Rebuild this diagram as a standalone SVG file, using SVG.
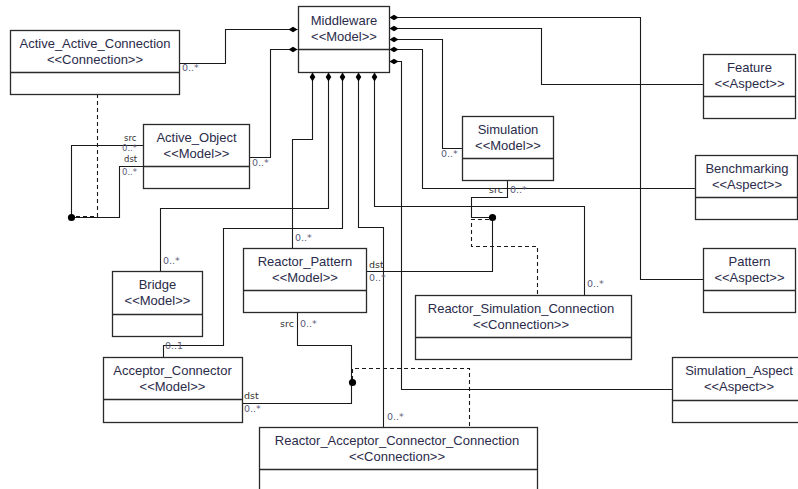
<svg xmlns="http://www.w3.org/2000/svg" width="798" height="489" viewBox="0 0 798 489">
  <style>
    .box { fill: #ffffff; stroke: #2a2a2a; stroke-width: 1.3; }
    .div { stroke: #2a2a2a; stroke-width: 1.3; }
    .name { font-family: "Liberation Sans", Arial, sans-serif; font-size: 13px; fill: #2b2b4a; text-anchor: middle; }
    .role { font-family: "DejaVu Sans", Verdana, sans-serif; font-size: 9.5px; fill: #333333; }
    .mult { font-family: "DejaVu Sans", Verdana, sans-serif; font-size: 9.5px; fill: #5a5a78; }
    .tight { font-size: 8.5px; }
    .wire { fill: none; stroke: #1a1a1a; stroke-width: 1.1; }
    .own { marker-start: url(#diamond); }
    .dash { fill: none; stroke: #1a1a1a; stroke-width: 1.1; stroke-dasharray: 4 3; }
    .dot { fill: #000000; }
  </style>
  <defs>
    <marker id="diamond" markerUnits="userSpaceOnUse" markerWidth="12" markerHeight="8" viewBox="0 -4 10 8" refX="0" refY="0" orient="auto">
      <path d="M0,0 L4.5,-2.8 L9,0 L4.5,2.8 Z" fill="#000000"/>
    </marker>
  </defs>

  <rect width="798" height="489" fill="#ffffff"/>

  <!-- connectors -->
  <g id="connectors">
    <!-- Middleware, left side -->
    <path class="wire own" d="M297.5,29.5 H225.5 V63.5 H179.5"/>
    <path class="wire own" d="M297.5,49.5 H270.5 V157.5 H249.5"/>
    <!-- Middleware, bottom side -->
    <path class="wire own" d="M312.5,72.5 V139.5 H292.5 V248"/>
    <path class="wire own" d="M328.5,72.5 V208.5 H160.5 V271"/>
    <path class="wire own" d="M342.5,72.5 V228.5 H223.5 V345.5 H163.5 V357"/>
    <path class="wire own" d="M358.5,72.5 V227.5 H383.5 V427"/>
    <path class="wire own" d="M374.5,72.5 V206.5 H584.5 V295"/>
    <!-- Middleware, right side -->
    <path class="wire own" d="M389.5,17.5 H640.5 V279.5 H703"/>
    <path class="wire own" d="M389.5,28.5 H541.5 V84.5 H703"/>
    <path class="wire own" d="M389.5,39.5 H442.5 V148.5 H462"/>
    <path class="wire own" d="M389.5,49.5 H422.5 V188.5 H695"/>
    <path class="wire own" d="M389.5,61.5 H401.5 V389.5 H672"/>

    <!-- Active_Object self connection -->
    <path class="wire" d="M143,145.5 H71.5 V217.5"/>
    <path class="wire" d="M143,166.5 H119.5 V217.5 H71.5"/>
    <path class="dash" d="M97.5,94 V216.5 H73"/>
    <circle class="dot" cx="71.5" cy="217.5" r="3.6"/>

    <!-- Reactor_Pattern / Simulation connection -->
    <path class="wire" d="M507.5,180 V197.5 H471.5 V217.5 H492.5"/>
    <path class="wire" d="M366,271.5 H492.5 V217.5"/>
    <path class="dash" d="M489,219.5 H471.5 V246.5 H537.5 V295"/>
    <circle class="dot" cx="492.5" cy="217.5" r="3.6"/>

    <!-- Reactor_Pattern / Acceptor_Connector connection -->
    <path class="wire" d="M297.5,312 V345.5 H351.5 V403.5 H242"/>
    <path class="dash" d="M352.5,380 V368.5 H469.5 V427"/>
    <circle class="dot" cx="352.5" cy="382.5" r="3.6"/>
  </g>

  <!-- connector labels -->
  <g id="labels">
    <text class="mult" x="182" y="71">0..*</text>
    <text class="mult" x="252" y="166">0..*</text>
    <text class="role tight" x="124" y="141">src</text>
    <text class="mult tight" x="122" y="151">0..*</text>
    <text class="role tight" x="124" y="162">dst</text>
    <text class="mult tight" x="122" y="175">0..*</text>
    <text class="mult" x="295" y="241">0..*</text>
    <text class="mult" x="163" y="264">0..*</text>
    <text class="mult" x="165" y="349">0..1</text>
    <text class="mult" x="387" y="420">0..*</text>
    <text class="mult" x="587" y="287">0..*</text>
    <text class="mult" x="441" y="157">0..*</text>
    <text class="role" x="489" y="193">src</text>
    <text class="mult" x="510" y="193">0..*</text>
    <text class="role" x="369" y="268">dst</text>
    <text class="mult" x="369" y="281">0..*</text>
    <text class="role" x="280" y="327">src</text>
    <text class="mult" x="300" y="327">0..*</text>
    <text class="role" x="244" y="399">dst</text>
    <text class="mult" x="244" y="412">0..*</text>
  </g>

  <!-- nodes -->
  <g id="Middleware">
    <rect class="box" x="298.5" y="6.5" width="91" height="66"/>
    <line class="div" x1="298.5" y1="49.5" x2="389.5" y2="49.5"/>
    <text class="name" x="344" y="25">Middleware</text>
    <text class="name" x="344" y="41">&lt;&lt;Model&gt;&gt;</text>
  </g>

  <g id="Active_Active_Connection">
    <rect class="box" x="10.5" y="30.5" width="169" height="64"/>
    <line class="div" x1="10.5" y1="72.5" x2="179.5" y2="72.5"/>
    <text class="name" x="95" y="48">Active_Active_Connection</text>
    <text class="name" x="95" y="64">&lt;&lt;Connection&gt;&gt;</text>
  </g>

  <g id="Active_Object">
    <rect class="box" x="143.5" y="124.5" width="106" height="64"/>
    <line class="div" x1="143.5" y1="166.5" x2="249.5" y2="166.5"/>
    <text class="name" x="196.5" y="142">Active_Object</text>
    <text class="name" x="196.5" y="158">&lt;&lt;Model&gt;&gt;</text>
  </g>

  <g id="Simulation">
    <rect class="box" x="462.5" y="116.5" width="91" height="64"/>
    <line class="div" x1="462.5" y1="158.5" x2="553.5" y2="158.5"/>
    <text class="name" x="508" y="134">Simulation</text>
    <text class="name" x="508" y="150">&lt;&lt;Model&gt;&gt;</text>
  </g>

  <g id="Feature">
    <rect class="box" x="703.5" y="54.5" width="92" height="64"/>
    <line class="div" x1="703.5" y1="96.5" x2="795.5" y2="96.5"/>
    <text class="name" x="749.5" y="72">Feature</text>
    <text class="name" x="749.5" y="88">&lt;&lt;Aspect&gt;&gt;</text>
  </g>

  <g id="Benchmarking">
    <rect class="box" x="695.5" y="155.5" width="102" height="64"/>
    <line class="div" x1="695.5" y1="197.5" x2="797.5" y2="197.5"/>
    <text class="name" x="747" y="173">Benchmarking</text>
    <text class="name" x="747" y="189">&lt;&lt;Aspect&gt;&gt;</text>
  </g>

  <g id="Pattern">
    <rect class="box" x="703.5" y="248.5" width="92" height="64"/>
    <line class="div" x1="703.5" y1="290.5" x2="795.5" y2="290.5"/>
    <text class="name" x="749.5" y="266">Pattern</text>
    <text class="name" x="749.5" y="282">&lt;&lt;Aspect&gt;&gt;</text>
  </g>

  <g id="Bridge">
    <rect class="box" x="112.5" y="271.5" width="90" height="65"/>
    <line class="div" x1="112.5" y1="314.5" x2="202.5" y2="314.5"/>
    <text class="name" x="157.5" y="289">Bridge</text>
    <text class="name" x="157.5" y="305">&lt;&lt;Model&gt;&gt;</text>
  </g>

  <g id="Reactor_Pattern">
    <rect class="box" x="243.5" y="248.5" width="123" height="64"/>
    <line class="div" x1="243.5" y1="290.5" x2="366.5" y2="290.5"/>
    <text class="name" x="305" y="266">Reactor_Pattern</text>
    <text class="name" x="305" y="282">&lt;&lt;Model&gt;&gt;</text>
  </g>

  <g id="Reactor_Simulation_Connection">
    <rect class="box" x="415.5" y="295.5" width="216" height="64"/>
    <line class="div" x1="415.5" y1="337.5" x2="631.5" y2="337.5"/>
    <text class="name" x="521" y="313">Reactor_Simulation_Connection</text>
    <text class="name" x="521" y="329">&lt;&lt;Connection&gt;&gt;</text>
  </g>

  <g id="Acceptor_Connector">
    <rect class="box" x="103.5" y="357.5" width="139" height="65"/>
    <line class="div" x1="103.5" y1="399.5" x2="242.5" y2="399.5"/>
    <text class="name" x="172.5" y="375">Acceptor_Connector</text>
    <text class="name" x="172.5" y="391">&lt;&lt;Model&gt;&gt;</text>
  </g>

  <g id="Simulation_Aspect">
    <rect class="box" x="672.5" y="357.5" width="134" height="65"/>
    <line class="div" x1="672.5" y1="400.5" x2="806.5" y2="400.5"/>
    <text class="name" x="739" y="375">Simulation_Aspect</text>
    <text class="name" x="739" y="391">&lt;&lt;Aspect&gt;&gt;</text>
  </g>

  <g id="Reactor_Acceptor_Connector_Connection">
    <rect class="box" x="259.5" y="427.5" width="278" height="80"/>
    <line class="div" x1="259.5" y1="469.5" x2="537.5" y2="469.5"/>
    <text class="name" x="397" y="445">Reactor_Acceptor_Connector_Connection</text>
    <text class="name" x="397" y="461">&lt;&lt;Connection&gt;&gt;</text>
  </g>
</svg>
